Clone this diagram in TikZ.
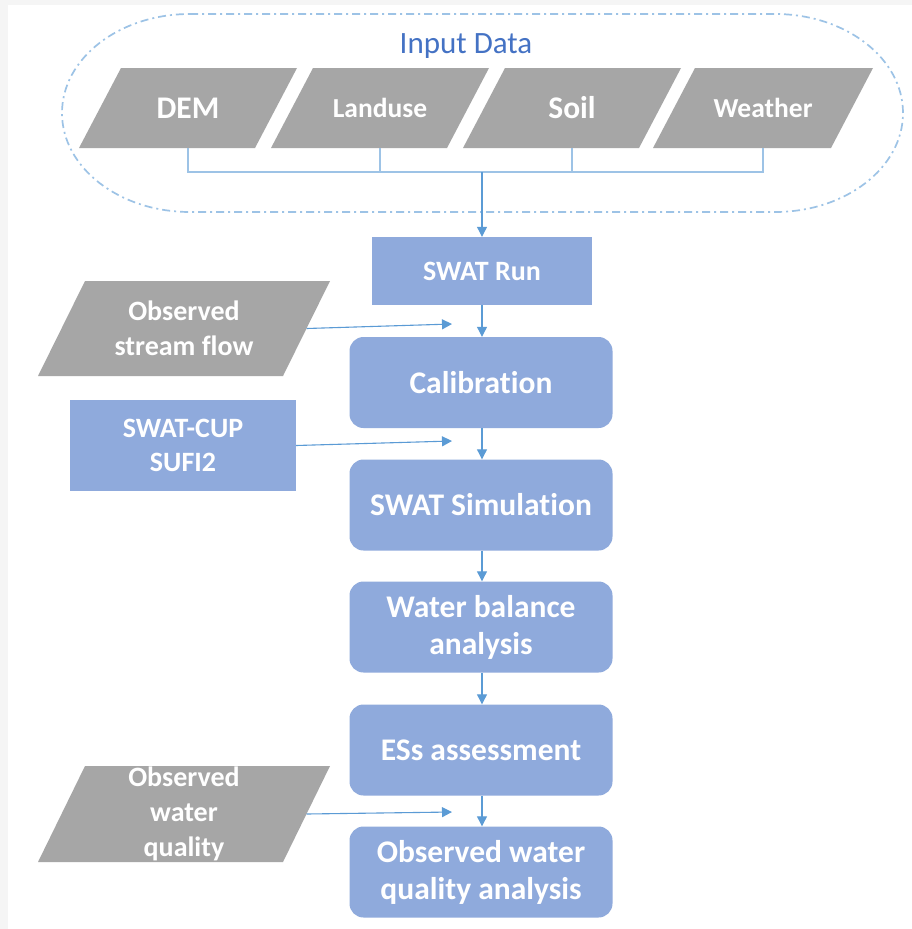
\documentclass[tikz,border=0pt]{standalone}
\usepackage{fontspec}
\setmainfont{Carlito}[Ligatures=NoCommon]
\usetikzlibrary{arrows.meta,calc}
\definecolor{boxblue}{HTML}{8FAADC}
\definecolor{paragray}{HTML}{A6A6A6}
\definecolor{linkblue}{HTML}{5B9BD5}
\definecolor{lightlink}{HTML}{9DC3E6}
\definecolor{framegray}{HTML}{F5F5F5}
\definecolor{titleblue}{HTML}{4472C4}
\newcommand\paranode[8]{%
  \fill[paragray] ({#2-#4/2-#6},{#3+#5/2}) -- ({#2+#4/2-#6},{#3+#5/2}) -- ({#2+#4/2+#6},{#3-#5/2}) -- ({#2-#4/2+#6},{#3-#5/2}) -- cycle;
  \node[paratext, minimum width=#4, minimum height=#5, font=#7] (#1) at (#2,#3) {#8};
}
\begin{document}
\begin{tikzpicture}[x=1pt,y=-1pt,
  paratext/.style={inner sep=0pt, text=white, align=center},
  sqbox/.style={fill=boxblue, text=white, align=center, inner sep=0pt, font=\bfseries\fontsize{28}{34}\selectfont},
  rbox/.style={fill=boxblue, text=white, align=center, inner sep=0pt, rounded corners=14pt, minimum width=263pt, minimum height=91pt, font=\bfseries\fontsize{31.5}{37}\selectfont},
  link/.style={draw=linkblue, line width=1.1pt, -{Triangle[length=10pt,width=10pt]}},
  feed/.style={draw=lightlink, line width=1.1pt},
  ]
\useasboundingbox (0,0) rectangle (912,929);
\fill[framegray] (0,0) rectangle (912,929);
\fill[white] (8,5) rectangle (912,929);

% input data frame
\draw[lightlink, line width=1.7pt, dash pattern=on 8pt off 4pt on 2pt off 4pt]
  (190,14) -- (775,14) arc[start angle=-90, end angle=90, x radius=128, y radius=99]
  -- (190,212) arc[start angle=90, end angle=270, x radius=128, y radius=99] -- cycle;
\node[text=titleblue, font=\fontsize{31}{36}\selectfont, inner sep=0pt] (title) at (466,46) {Input Data};

\paranode{dem}{188}{108}{176}{80}{21}{\bfseries\fontsize{31.5}{36}\selectfont}{DEM}
\paranode{lan}{380}{108}{176}{80}{21}{\bfseries\fontsize{27.5}{32}\selectfont}{Landuse}
\paranode{soil}{572}{108}{176}{80}{21}{\bfseries\fontsize{31.5}{36}\selectfont}{Soil}
\paranode{wea}{763}{108}{178}{80}{21}{\bfseries\fontsize{27.5}{32}\selectfont}{Weather}

\coordinate (junc) at (482,172);

% main column
\node[sqbox, minimum width=220pt, minimum height=68pt] (run) at (482,271) {SWAT Run};
\node[rbox] (cal) at (481,382.5) {Calibration};
\node[rbox] (sim) at (481,505) {SWAT Simulation};
\node[rbox] (wb) at (481,627) {Water balance\\analysis};
\node[rbox] (ess) at (481,750) {ESs assessment};
\node[rbox] (owqa) at (481,872) {Observed water\\quality analysis};

% side inputs
\paranode{osf}{184}{328.5}{245}{95}{23.5}{\bfseries\fontsize{28}{35}\selectfont}{Observed\\stream flow}
\node[sqbox, minimum width=226pt, minimum height=91pt] (cup) at (183,445.5) {SWAT-CUP\\SUFI2};
\paranode{owq}{184}{814}{245}{96}{23.5}{\bfseries\fontsize{28}{35}\selectfont}{Observed\\water\\quality}

\coordinate (t1) at (452,324);
\coordinate (t2) at (452,441);
\coordinate (t3) at (452,812);

% connectors
\draw[feed] (dem.south) |- (junc);
\draw[feed] (lan.south) |- (junc);
\draw[feed] (soil.south) |- (junc);
\draw[feed] (wea.south) |- (junc);
\draw[link] (junc) -- (run.north);
\draw[link] (run.south) -- (cal.north -| run.south);
\draw[link] (cal.south -| run.south) -- (sim.north -| run.south);
\draw[link] (sim.south -| run.south) -- (wb.north -| run.south);
\draw[link] (wb.south -| run.south) -- (ess.north -| run.south);
\draw[link] (ess.south -| run.south) -- (owqa.north -| run.south);
\draw[link] (osf.east) -- (t1);
\draw[link] (cup.east) -- (t2);
\draw[link] (owq.east) -- (t3);
\end{tikzpicture}
\end{document}
